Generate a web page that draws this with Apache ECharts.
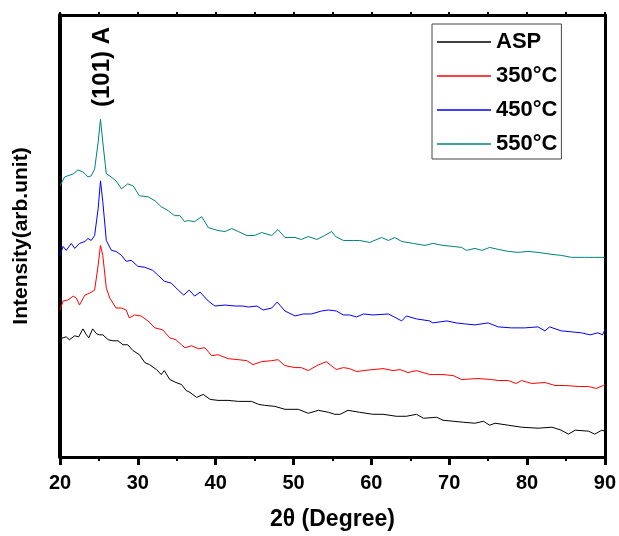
<!DOCTYPE html>
<html>
<head>
<meta charset="utf-8">
<script src="https://cdn.jsdelivr.net/npm/echarts@6/dist/echarts.min.js"></script>
<style>html,body{margin:0;padding:0;background:#fff}#c{width:619px;height:536px}</style>
</head>
<body>
<div id="c"></div>
<script>
// ---- data (2θ in degrees, intensity in arbitrary units) ----
const seriesNames = ['ASP', '350°C', '450°C', '550°C'];
const xTicks = [20, 30, 40, 50, 60, 70, 80, 90];

const aspX = [20,20.25,20.8,21.2,21.9,22.4,22.95,23.4,23.7,24.2,24.7,25.1,25.5,26.2,26.8,27.45,28.1,28.7,29.4,30.2,30.9,31.5,32.4,33.0,33.4,34.1,34.9,35.6,36.2,36.7,37.55,38.4,39.3,40.3,41.6,42.9,44.6,45.5,46.3,47.6,48.9,50.6,51.9,53.2,54.5,55.3,56.0,57.0,58.5,60.2,61.5,63.2,64.5,65.8,66.7,68.4,69.2,70.5,71.8,73.3,74.4,75.2,75.9,77.6,79.3,81.4,83.2,84.4,85.3,86.2,87.9,88.7,89.6,90];
const aspY = [119,120,121,118,122,121,129,123,120,129,124,123,123,118,117,117,113,113,107,103,95,93,88,83,87,78,75,73,67,65,60,63,58,57,57,56,56,53,52,51,48,48,44,47,45,43,43,47,45,43,43,41,41,43,39,40,37,36,35,34,36,32,34,32,30,29,30,27,23,27,26,23,27,26];

const c350X = [20,20.4,21.0,21.7,22.1,22.5,23.2,23.8,24.45,24.9,25.2,25.5,25.95,26.4,27.2,27.9,28.5,28.9,29.6,30.4,31.3,32.2,33.2,34.1,34.9,35.6,36.05,36.9,37.8,38.6,39.5,40.3,41.6,42.9,44.0,44.8,45.9,47.2,48.0,48.9,50.2,51.0,51.9,53.0,54.2,55.5,56.4,57.2,58.1,59.0,60.2,61.5,62.8,63.7,64.7,65.8,67.5,69.2,70.5,71.6,73.7,75.4,76.3,77.6,78.6,79.3,80.6,82.3,83.6,84.9,86.6,87.9,88.9,89.8,90];
const c350Y = [148,157,158,162,160,153,163,165,168,193,213,203,170,160,150,150,148,140,143,142,137,130,128,120,118,113,110,112,109,110,102,103,99,98,97,93,96,97,98,92,90,90,87,92,96,88,90,89,86,87,88,89,87,88,85,87,83,83,82,78,79,78,77,77,74,77,74,75,72,72,71,71,69,72,73];

const c450X = [20,20.4,20.8,21.45,21.9,22.5,23.2,23.6,24.0,24.45,24.9,25.2,25.5,25.95,26.6,27.2,27.9,28.5,29.15,30.0,30.9,31.9,32.6,33.4,34.3,35.2,35.9,36.6,37.3,38.0,39.05,39.9,41.2,42.5,43.5,44.2,45.3,46.1,47.2,47.9,48.9,50.2,51.25,52.3,53.6,54.5,55.5,56.4,57.2,58.1,59.0,60.2,62.2,63.9,64.5,65.8,67.5,67.9,69.7,70.9,72.0,73.3,75.0,76.3,78.0,79.7,81.4,82.3,82.9,84.4,85.7,87.0,88.1,89.1,89.7,90];
const c450Y = [203,212,208,215,210,215,217,220,218,223,250,278,257,218,208,207,203,197,198,192,191,188,183,177,175,168,163,168,162,166,157,152,153,152,152,151,152,148,150,156,147,142,144,144,147,148,147,143,143,141,144,143,144,137,142,139,137,135,137,135,134,133,135,131,130,130,131,127,131,127,126,125,123,125,123,128];

const c550X = [20,20.6,21.7,22.3,22.95,23.6,24.0,24.45,24.9,25.2,25.5,25.95,26.4,27.2,27.9,28.7,29.4,30.2,31.3,32.2,33.0,33.9,34.7,35.4,36.0,36.4,37.3,38.2,39.05,40.3,41.2,42.05,42.9,44.0,45.0,45.9,47.2,48.0,48.9,50.2,51.0,51.9,53.0,54.0,54.9,55.4,56.4,57.7,58.5,59.8,61.3,62.2,63.0,63.9,65.4,66.9,67.9,69.2,70.5,71.6,72.2,73.3,74.2,75.2,76.3,77.6,78.9,80.1,81.4,83.2,84.4,85.7,87.4,88.7,90];
const c550Y = [273,282,285,289,287,282,283,290,317,340,317,285,283,278,270,275,273,263,262,258,252,248,243,243,237,238,237,242,231,228,227,230,227,223,223,226,223,229,221,221,219,222,219,223,227,222,218,218,218,216,221,218,221,217,215,213,215,213,212,211,208,210,208,211,209,207,206,207,206,204,203,201,201,201,201];

const peakLabel = '(101) A';

// ---- chart ----
const zip = (xs, ys) => xs.map((x, i) => [x, ys[i]]);
const colors = ['#000000', '#ff0000', '#0000ff', '#008080'];
const xsAll = [aspX, c350X, c450X, c550X];
const ysAll = [aspY, c350Y, c450Y, c550Y];
const FONT = "'Liberation Sans', Arial, sans-serif";

const chart = echarts.init(document.getElementById('c'), null, {renderer: 'canvas'});
chart.setOption({
  animation: false,
  backgroundColor: '#fff',
  grid: {left: 60, right: 14, top: 15, bottom: 76},
  legend: {
    orient: 'vertical', left: 432, top: 24,
    data: seriesNames,
    icon: 'rect',
    itemWidth: 54, itemHeight: 1.5, itemGap: 10,
    padding: [6, 4, 3, 5],
    borderColor: '#444', borderWidth: 1,
    backgroundColor: '#fff',
    textStyle: {fontFamily: FONT, fontWeight: 'bold', fontSize: 22, color: '#000', lineHeight: 24}
  },
  xAxis: [{
    type: 'value', position: 'bottom', min: xTicks[0], max: xTicks[xTicks.length - 1], interval: 10,
    name: '2θ (Degree)', nameLocation: 'middle', nameGap: 51,
    nameTextStyle: {fontFamily: FONT, fontWeight: 'bold', fontSize: 23, color: '#000'},
    axisLine: {show: true, onZero: false, lineStyle: {color: '#000', width: 3}},
    axisTick: {show: true, inside: false, length: 8, lineStyle: {width: 3, color: '#000'}},
    minorTick: {show: true, splitNumber: 2, length: 4, lineStyle: {width: 2, color: '#000'}},
    axisLabel: {fontFamily: FONT, fontWeight: 'bold', fontSize: 20, color: '#000', margin: 16},
    splitLine: {show: false}
  }, {
    type: 'value', position: 'top', min: xTicks[0], max: xTicks[xTicks.length - 1], interval: 5,
    axisLine: {show: true, onZero: false, lineStyle: {color: '#000', width: 3}},
    axisTick: {show: true, inside: false, length: 3, lineStyle: {width: 2, color: '#000'}},
    axisLabel: {show: false},
    splitLine: {show: false}
  }],
  yAxis: [{
    type: 'value', position: 'left', min: 0, max: 445,
    name: 'Intensity(arb.unit)', nameLocation: 'middle', nameGap: 28,
    nameTextStyle: {fontFamily: FONT, fontWeight: 'bold', fontSize: 21, color: '#000'},
    axisLine: {show: true, onZero: false, lineStyle: {color: '#000', width: 4}},
    axisTick: {show: false}, axisLabel: {show: false}, splitLine: {show: false}
  }, {
    type: 'value', position: 'right', min: 0, max: 445,
    axisLine: {show: true, onZero: false, lineStyle: {color: '#000', width: 3}},
    axisTick: {show: false}, axisLabel: {show: false}, splitLine: {show: false}
  }],
  series: seriesNames.map((n, i) => ({
    name: n, type: 'line', xAxisIndex: 0, yAxisIndex: 0,
    data: zip(xsAll[i], ysAll[i]),
    symbol: 'none', smooth: false,
    lineStyle: {color: colors[i], width: 1},
    itemStyle: {color: colors[i]},
    z: 2
  })),
  graphic: [{
    type: 'text', x: 102, y: 67, rotation: Math.PI / 2,
    style: {text: peakLabel, fontFamily: FONT, fontWeight: 'bold', fontSize: 24, fill: '#000', align: 'center', verticalAlign: 'middle'}
  }]
});
</script>
</body>
</html>
